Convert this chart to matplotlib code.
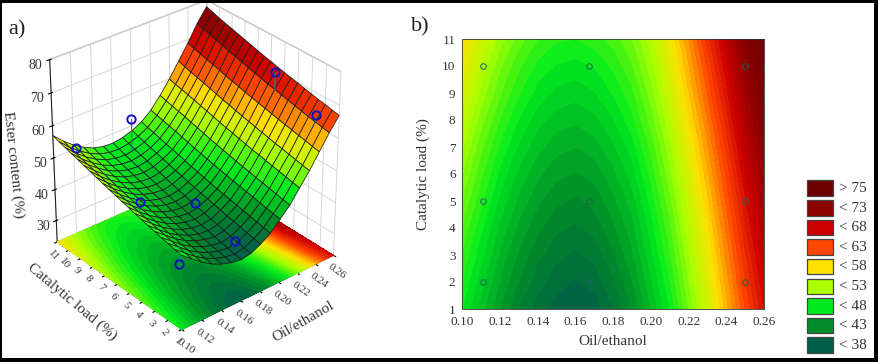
import numpy as np
import matplotlib
matplotlib.use("Agg")
import matplotlib.pyplot as plt
from matplotlib.colors import LinearSegmentedColormap, Normalize
from matplotlib.patches import Rectangle

plt.rcParams['font.family'] = ['Liberation Serif', 'DejaVu Serif']

oil = [0.10, 0.11, 0.12, 0.13, 0.14, 0.15, 0.16, 0.17, 0.18, 0.19, 0.20, 0.21, 0.22, 0.23, 0.24, 0.25, 0.26]
load = [1, 1.5, 2, 2.5, 3, 3.5, 4, 4.5, 5, 5.5, 6, 6.5, 7, 7.5, 8, 8.5, 9, 9.5, 10, 10.5, 11]
load_ticks = [1, 2, 3, 4, 5, 6, 7, 8, 9, 10, 11]

# ester content, one row per catalytic load
ester = [
    [46.0, 43.5, 41.0, 39.0, 37.5, 36.5, 36.0, 36.5, 38.0, 40.0, 43.0, 46.0, 50.0, 54.0, 58.5, 63.0, 67.0],
    [46.4, 43.9, 41.4, 39.4, 37.9, 36.9, 36.4, 36.9, 38.4, 40.4, 43.4, 46.4, 50.4, 54.4, 58.9, 63.4, 67.4],
    [46.9, 44.4, 41.9, 39.9, 38.4, 37.4, 36.9, 37.4, 38.9, 40.9, 43.8, 46.9, 50.9, 54.9, 59.4, 63.9, 67.9],
    [47.3, 44.8, 42.3, 40.3, 38.8, 37.8, 37.3, 37.8, 39.3, 41.3, 44.2, 47.3, 51.3, 55.3, 59.8, 64.3, 68.3],
    [47.8, 45.3, 42.8, 40.8, 39.3, 38.3, 37.8, 38.3, 39.8, 41.8, 44.7, 47.8, 51.8, 55.8, 60.3, 64.8, 68.8],
    [48.3, 45.7, 43.2, 41.2, 39.7, 38.7, 38.3, 38.8, 40.2, 42.2, 45.1, 48.2, 52.2, 56.2, 60.7, 65.3, 69.3],
    [48.8, 46.2, 43.7, 41.7, 40.2, 39.2, 38.8, 39.3, 40.7, 42.6, 45.5, 48.7, 52.7, 56.7, 61.2, 65.8, 69.8],
    [49.3, 46.7, 44.2, 42.2, 40.7, 39.7, 39.3, 39.8, 41.2, 43.0, 45.9, 49.1, 53.1, 57.2, 61.7, 66.3, 70.3],
    [49.9, 47.2, 44.7, 42.7, 41.2, 40.2, 39.8, 40.3, 41.7, 43.5, 46.4, 49.6, 53.6, 57.7, 62.2, 66.8, 70.8],
    [50.4, 47.7, 45.2, 43.2, 41.7, 40.7, 40.3, 40.8, 42.2, 44.0, 46.8, 50.1, 54.1, 58.2, 62.7, 67.3, 71.3],
    [51.0, 48.2, 45.7, 43.7, 42.2, 41.3, 40.9, 41.4, 42.7, 44.5, 47.3, 50.6, 54.6, 58.7, 63.2, 67.9, 71.9],
    [51.5, 48.7, 46.2, 44.2, 42.7, 41.8, 41.4, 41.9, 43.2, 45.0, 47.8, 51.1, 55.1, 59.2, 63.7, 68.4, 72.4],
    [52.1, 49.2, 46.8, 44.8, 43.3, 42.4, 42.0, 42.5, 43.8, 45.5, 48.3, 51.6, 55.6, 59.8, 64.3, 69.0, 73.0],
    [52.7, 49.8, 47.3, 45.3, 43.8, 42.9, 42.6, 43.1, 44.3, 46.1, 48.8, 52.2, 56.2, 60.3, 64.8, 69.6, 73.6],
    [53.3, 50.4, 47.9, 45.9, 44.4, 43.5, 43.2, 43.7, 44.9, 46.7, 49.4, 52.8, 56.8, 60.9, 65.4, 70.2, 74.2],
    [53.9, 51.0, 48.5, 46.5, 45.0, 44.1, 43.8, 44.3, 45.5, 47.2, 49.9, 53.3, 57.3, 61.5, 66.0, 70.8, 74.8],
    [54.5, 51.6, 49.1, 47.1, 45.6, 44.7, 44.4, 44.9, 46.1, 47.7, 50.5, 53.9, 57.9, 62.1, 66.6, 71.4, 75.4],
    [55.1, 52.1, 49.6, 47.6, 46.1, 45.3, 45.0, 45.5, 46.6, 48.3, 51.0, 54.4, 58.4, 62.6, 67.1, 72.0, 76.0],
    [55.7, 52.7, 50.2, 48.2, 46.7, 45.9, 45.6, 46.1, 47.2, 48.9, 51.5, 54.9, 58.9, 63.2, 67.7, 72.6, 76.6],
    [56.3, 53.3, 50.8, 48.8, 47.3, 46.5, 46.3, 46.8, 47.8, 49.4, 52.0, 55.4, 59.4, 63.8, 68.3, 73.3, 77.3],
    [57.0, 54.0, 51.5, 49.5, 48.0, 47.2, 47.0, 47.5, 48.5, 50.0, 52.5, 56.0, 60.0, 64.5, 69.0, 74.0, 78.0],
]

# experimental points
point_oil = [0.111, 0.167, 0.25, 0.111, 0.167, 0.25, 0.111, 0.167, 0.25]
point_load = [2, 2, 2, 5, 5, 5, 10, 10, 10]
point_ester = [39, 38, 66, 50, 42, 72, 54, 56, 68]
point_hidden = [False, False, False, False, False, False, False, False, True]

legend_labels = ['> 75', '< 73', '< 68', '< 63', '< 58', '< 53', '< 48', '< 43', '< 38']
legend_colors = ['#6e0000', '#8c0000', '#cd0000', '#ff4600', '#ffe100', '#aaff00', '#00eb1e', '#008c28', '#005f46']
cmap_levels = [36, 40, 46, 52, 57, 63, 68, 73, 78]

W, H = 879, 362
GRAY = '#333333'

X, Y = np.meshgrid(oil, load)
Z = np.array(ester)

norm = Normalize(cmap_levels[0], cmap_levels[-1])
nodes = [(lev - cmap_levels[0]) / (cmap_levels[-1] - cmap_levels[0]) for lev in cmap_levels]
cmap = LinearSegmentedColormap.from_list('ester', list(zip(nodes, legend_colors[::-1])))
levels = np.arange(35, 80, 1.0)

fig = plt.figure(figsize=(W / 100, H / 100), dpi=100)

# a) response surface
ax = fig.add_axes([-0.052, 0.015, 0.535, 1.06], projection='3d', computed_zorder=False)
ax.view_init(elev=31, azim=-130)
ax.set_box_aspect((1, 1, 1.06), zoom=0.90)
ax.set_xlim(0.10, 0.26)
ax.set_ylim(1, 11)
ax.set_zlim(23, 80)
ax.set_xticks(np.arange(0.10, 0.27, 0.02))
ax.set_xticklabels(['%.2f' % t for t in np.arange(0.10, 0.27, 0.02)])
ax.set_yticks(load_ticks)
ax.set_zticks([30, 40, 50, 60, 70, 80])
ax.tick_params(axis='x', labelsize=8, labelcolor=GRAY, pad=-4, labelrotation=-35)
ax.tick_params(axis='y', labelsize=8, labelcolor=GRAY, pad=-4, labelrotation=-50)
ax.tick_params(axis='z', labelsize=10, labelcolor=GRAY, pad=-1)
for axis in (ax.xaxis, ax.yaxis, ax.zaxis):
    axis.set_pane_color((1, 1, 1, 1))
    axis.pane.set_edgecolor('#bbbbbb')
    axis._axinfo['grid'].update(color='#d0d0d0', linewidth=0.6)
    axis.line.set_color('#222222')

ax.contourf(X, Y, Z, levels=levels, cmap=cmap, norm=norm, zdir='z', offset=23, zorder=1)

for i in range(len(point_oil)):
    if point_hidden[i]:
        ax.plot([point_oil[i]], [point_load[i]], [point_ester[i]], 'o', mfc='none', mec='#1010c0', ms=6, mew=1.4, zorder=2)

face = cmap(norm(Z))
ax.plot_surface(X, Y, Z, facecolors=face, rstride=1, cstride=1, edgecolor='#1c1c1c', linewidth=0.55, shade=False, antialiased=True, zorder=3)

surface_at = {(o, l): Z[load.index(l), int(round((o - 0.10) / 0.01))] for o, l in zip(point_oil, point_load)}
for i in range(len(point_oil)):
    if point_hidden[i]:
        continue
    ax.plot([point_oil[i], point_oil[i]], [point_load[i], point_load[i]],
            [point_ester[i], surface_at[(point_oil[i], point_load[i])]], color='#208090', lw=0.8, zorder=4)
    ax.plot([point_oil[i]], [point_load[i]], [point_ester[i]], 'o', mfc='none', mec='#1010c0', ms=6, mew=1.4, zorder=5)

fig.text(8 / W, 1 - 30 / H, 'a)', fontsize=16, color='#222222', va='center')
fig.text(13 / W, 1 - 165 / H, 'Ester content (%)', fontsize=11, color=GRAY, rotation=-84, ha='center', va='center')
fig.text(72 / W, 1 - 302 / H, 'Catalytic load (%)', fontsize=11, color=GRAY, rotation=-40, ha='center', va='center')
fig.text(303 / W, 1 - 322 / H, 'Oil/ethanol', fontsize=11, color=GRAY, rotation=30, ha='center', va='center')

# b) contour map
ax2 = fig.add_axes([462.5 / W, 1 - 309 / H, 301.5 / W, 270 / H])
ax2.contourf(X, Y, Z, levels=levels, cmap=cmap, norm=norm)
ax2.plot(point_oil, point_load, 'o', mfc='none', mec='#206060', ms=4, mew=0.7)
ax2.set_xlim(0.10, 0.26)
ax2.set_ylim(1, 11)
ax2.set_xticks(np.arange(0.10, 0.27, 0.02))
ax2.set_xticklabels(['%.2f' % t for t in np.arange(0.10, 0.27, 0.02)])
ax2.set_yticks(load_ticks)
ax2.tick_params(labelsize=9.5, labelcolor=GRAY, length=0, pad=5)
ax2.set_xlabel('Oil/ethanol', fontsize=11, color=GRAY, labelpad=5)
ax2.set_ylabel('Catalytic load (%)', fontsize=11, color=GRAY, labelpad=9)
for s in ax2.spines.values():
    s.set_linewidth(0.6)
    s.set_color('#333333')

fig.text(411 / W, 1 - 27 / H, 'b)', fontsize=16, color='#222222', va='center')

# legend boxes
for i, (lab, col) in enumerate(zip(legend_labels, legend_colors)):
    top = 180.5 + i * 19.6
    fig.add_artist(Rectangle((806.7 / W, 1 - (top + 15.5) / H), 26.5 / W, 15.5 / H, facecolor=col,
                             edgecolor='#444444', linewidth=0.9, transform=fig.transFigure))
    fig.text(839 / W, 1 - (top + 8) / H, lab, fontsize=11, color=GRAY, va='center')

# outer frame
for r in [(0, 0, W, 3), (0, H - 4, W, 4), (0, 0, 2, H), (W - 5, 0, 5, H)]:
    fig.add_artist(Rectangle((r[0] / W, 1 - (r[1] + r[3]) / H), r[2] / W, r[3] / H, facecolor='black',
                             edgecolor='none', transform=fig.transFigure))

fig.savefig('out.png', dpi=100)
